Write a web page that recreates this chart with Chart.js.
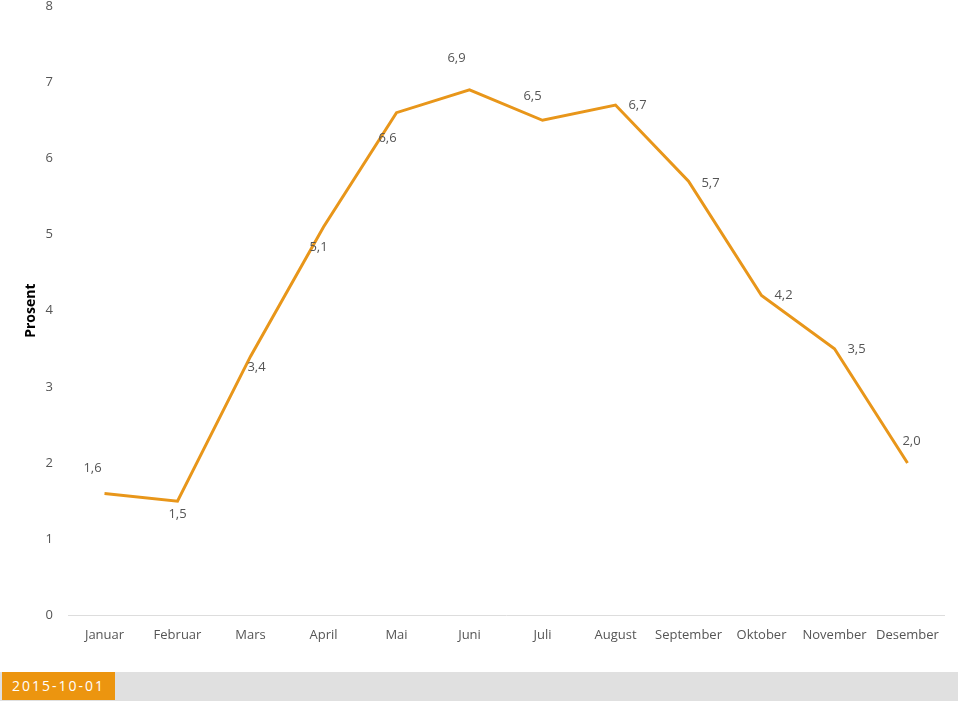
<!DOCTYPE html>
<html>
<head>
<meta charset="utf-8">
<script src="https://cdn.jsdelivr.net/npm/chart.js@4/dist/chart.umd.min.js"></script>
<style>
  html, body { margin: 0; padding: 0; background: #fff; }
  #wrap { position: absolute; left: 0; top: 0; width: 960px; height: 655px; }
  #bar { position: absolute; left: 0; top: 672px; width: 958px; height: 29px; background: #e0e0e0; }
  #date { position: absolute; left: 2px; top: 0; width: 113px; height: 28px; background: #ec950f;
          color: #fff; font: 14px "Open Sans", sans-serif; letter-spacing: 2px;
          line-height: 28px; text-align: center; }
</style>
</head>
<body>
<div id="wrap"><canvas id="myChart"></canvas></div>
<div id="bar"><div id="date">2015-10-01</div></div>
<script>
var months = ["Januar", "Februar", "Mars", "April", "Mai", "Juni", "Juli", "August", "September", "Oktober", "November", "Desember"]
var prosent = [1.6, 1.5, 3.4, 5.1, 6.6, 6.9, 6.5, 6.7, 5.7, 4.2, 3.5, 2.0]
var yTicks = [0, 1, 2, 3, 4, 5, 6, 7, 8]

// where each value label sits relative to its point
var labelOffsets = [[-12, -25], [0, 13], [6, 11], [-5, 20], [-9, 26], [-13, -31],
                    [-10, -24], [22, 0], [22, 2], [22, 0], [22, 1], [4, -22]]

var valueLabels = {
  id: "valueLabels",
  afterDatasetsDraw: function(chart) {
    var ctx = chart.ctx
    var meta = chart.getDatasetMeta(0)
    ctx.save()
    ctx.font = "13px 'Open Sans', sans-serif"
    ctx.fillStyle = "#555"
    ctx.textAlign = "center"
    ctx.textBaseline = "middle"
    meta.data.forEach(function(pt, i) {
      var txt = prosent[i].toFixed(1).replace(".", ",")
      ctx.fillText(txt, pt.x + labelOffsets[i][0], pt.y + labelOffsets[i][1])
    })
    ctx.restore()
  }
}

document.addEventListener("DOMContentLoaded", function(event) {
  var ctx = document.getElementById("myChart")
  new Chart(ctx, {
    type: "line",
    data: {
      labels: months,
      datasets: [{
        data: prosent,
        borderColor: "#e8961a",
        borderWidth: 3,
        pointRadius: 0,
        tension: 0,
        fill: false
      }]
    },
    options: {
      responsive: true,
      maintainAspectRatio: false,
      animation: false,
      layout: { padding: { left: 23, right: 16, top: 6, bottom: 0 } },
      plugins: { legend: { display: false }, tooltip: { enabled: false } },
      scales: {
        x: {
          offset: true,
          grid: { display: false, drawTicks: false },
          border: { display: true, color: "#dddddd", width: 1 },
          ticks: { color: "#555", padding: 12, maxRotation: 0, autoSkip: false,
                   font: { family: "'Open Sans', sans-serif", size: 13 } }
        },
        y: {
          min: 0, max: 8,
          afterBuildTicks: function(scale) { scale.ticks = yTicks.map(function(v) { return { value: v } }) },
          afterFit: function(scale) { scale.width = 45; scale.paddingTop = 0; scale.paddingBottom = 0 },
          grid: { display: false, drawTicks: false },
          border: { display: false },
          title: { display: true, text: "Prosent", color: "#000",
                   font: { family: "'Open Sans', sans-serif", size: 14, weight: "bold" }, padding: 0 },
          ticks: { color: "#555", padding: 15,
                   font: { family: "'Open Sans', sans-serif", size: 13 } }
        }
      }
    },
    plugins: [valueLabels]
  })
})
</script>
</body>
</html>
